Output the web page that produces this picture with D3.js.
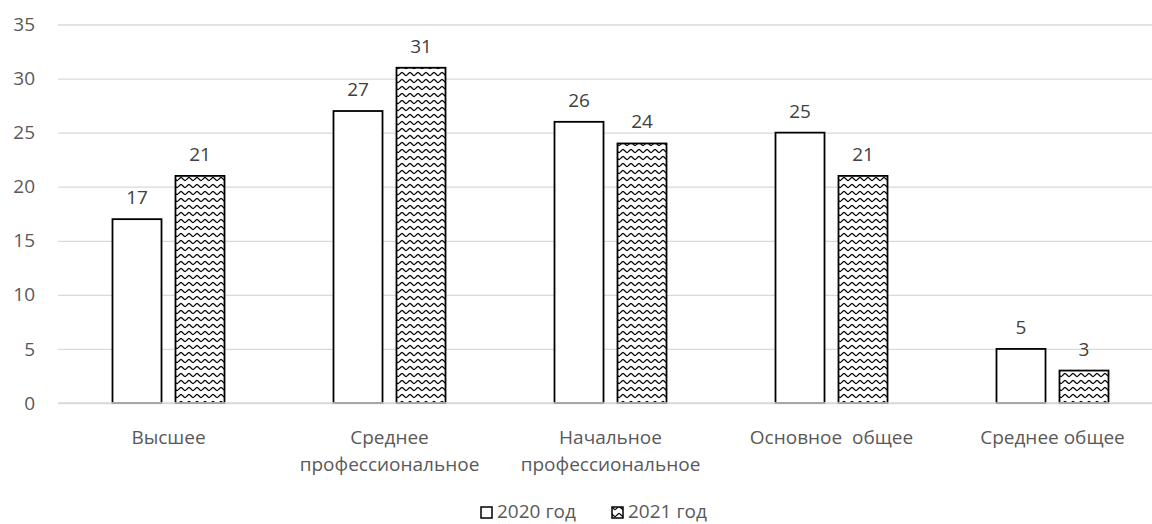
<!DOCTYPE html>
<html>
<head>
<meta charset="utf-8">
<script src="https://cdn.jsdelivr.net/npm/d3@7"></script>
<style>
  html, body { margin: 0; padding: 0; background: #fff; }
  svg { display: block; font-family: "Open Sans", "Liberation Sans", sans-serif; }
  text { white-space: pre; }
</style>
</head>
<body>
<svg id="chart" width="1152" height="524"></svg>
<script>
// Education level categories (two-line labels split by "\n")
const categories = ["Высшее", "Среднее\nпрофессиональное", "Начальное\nпрофессиональное", "Основное  общее", "Среднее общее"];
const seriesNames = ["2020 год", "2021 год"];
const values2020 = [17, 27, 26, 25, 5];
const values2021 = [21, 31, 24, 21, 3];
const yTicks = [0, 5, 10, 15, 20, 25, 30, 35];

const svg = d3.select("#chart");
const W = 1152;
const plot = { left: 58, right: 1163, top: 24.5, bottom: 403 };
const FS = 19;

// Wavy hatch used for the second series
const defs = svg.append("defs");
const pat = defs.append("pattern")
  .attr("id", "wave")
  .attr("patternUnits", "userSpaceOnUse")
  .attr("width", 8).attr("height", 7);
pat.append("rect").attr("width", 8).attr("height", 7).attr("fill", "#fff");
pat.append("path")
  .attr("d", "M0,5 L2,3 L3,2.5 L4,3 L6,5 L7,5.5 L8,5")
  .attr("fill", "none")
  .attr("stroke", "#000")
  .attr("stroke-width", 1.2);

const x0 = d3.scaleBand().domain(categories).range([plot.left, plot.right]).paddingInner(0).paddingOuter(0);
const x1 = d3.scaleBand().domain(seriesNames).range([0, x0.bandwidth()]).paddingInner(0.222).paddingOuter(0.865);
const y = d3.scaleLinear().domain([0, 35]).range([plot.bottom, plot.top]);

// Gridlines and value axis
const yAxis = d3.axisLeft(y).tickValues(yTicks).tickSize(-(W - plot.left)).tickPadding(0);
const gy = svg.append("g").attr("transform", `translate(${plot.left},0)`).call(yAxis);
gy.select(".domain").remove();
gy.selectAll(".tick line").attr("stroke", "#d9d9d9").attr("stroke-width", 1.3);
gy.selectAll(".tick text")
  .attr("fill", "#595959")
  .attr("font-size", FS)
  .attr("x", -23)
  .style("font-family", "'Open Sans', sans-serif");

const data = categories.map((c, i) => ({ cat: c, vals: [values2020[i], values2021[i]] }));

const groups = svg.append("g").selectAll("g")
  .data(data).join("g")
  .attr("transform", d => `translate(${x0(d.cat)},0)`);

groups.selectAll("rect")
  .data(d => d.vals.map((v, j) => ({ series: seriesNames[j], v, j })))
  .join("rect")
  .attr("x", d => x1(d.series))
  .attr("y", d => y(d.v))
  .attr("width", x1.bandwidth())
  .attr("height", d => y(0) - y(d.v))
  .attr("fill", d => d.j === 0 ? "#fff" : "url(#wave)")
  .attr("stroke", "#000")
  .attr("stroke-width", 1.8);

// Value labels
groups.selectAll("text.val")
  .data(d => d.vals.map((v, j) => ({ series: seriesNames[j], v })))
  .join("text")
  .attr("class", "val")
  .attr("x", d => x1(d.series) + x1.bandwidth() / 2)
  .attr("y", d => y(d.v) - 15)
  .attr("text-anchor", "middle")
  .attr("fill", "#404040")
  .attr("font-size", FS)
  .text(d => d.v);

// Baseline
svg.append("line")
  .attr("x1", plot.left).attr("x2", W)
  .attr("y1", y(0)).attr("y2", y(0))
  .attr("stroke", "#d9d9d9").attr("stroke-width", 1.3);

// Category labels
const catG = svg.append("g");
data.forEach(d => {
  const cx = x0(d.cat) + x0.bandwidth() / 2;
  const t = catG.append("text")
    .attr("x", cx)
    .attr("y", 444)
    .attr("text-anchor", "middle")
    .attr("fill", "#595959")
    .attr("font-size", FS);
  d.cat.split("\n").forEach((ln, k) => {
    t.append("tspan")
      .attr("x", cx)
      .attr("dy", k === 0 ? 0 : 27)
      .text(ln);
  });
});

// Legend
const legend = svg.append("g");
const legendItems = [
  { name: seriesNames[0], fill: "#fff", x: 481 },
  { name: seriesNames[1], fill: "url(#wave)", x: 612 }
];
legendItems.forEach(it => {
  legend.append("rect")
    .attr("x", it.x).attr("y", 507)
    .attr("width", 11).attr("height", 11)
    .attr("fill", it.fill)
    .attr("stroke", "#000").attr("stroke-width", 1.5);
  legend.append("text")
    .attr("x", it.x + 16).attr("y", 518)
    .attr("fill", "#595959")
    .attr("font-size", FS)
    .text(it.name);
});
</script>
</body>
</html>
